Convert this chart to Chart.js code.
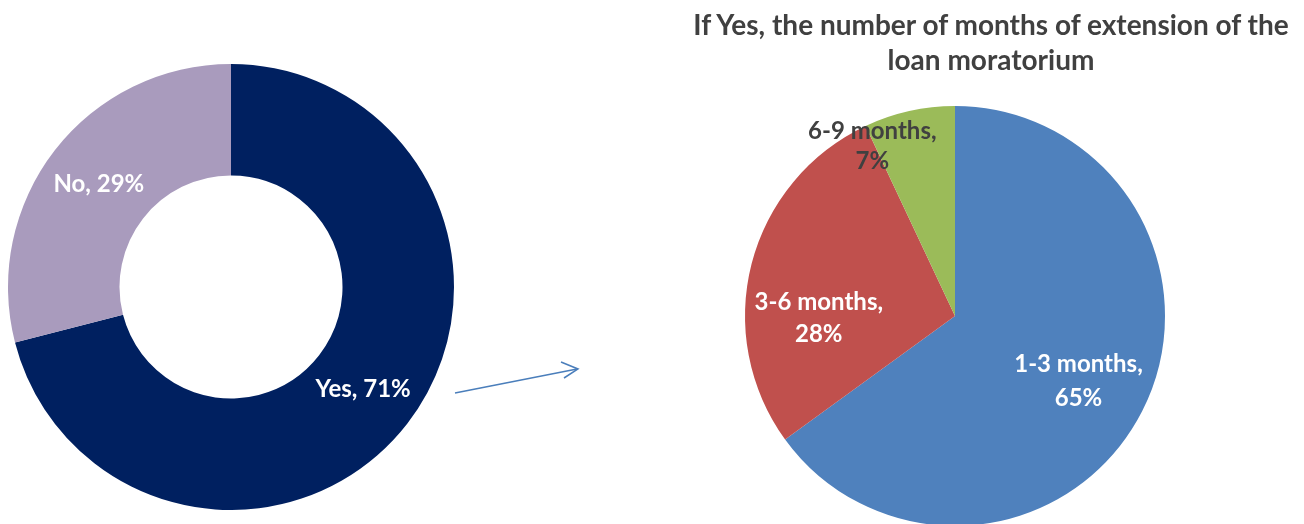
<!DOCTYPE html>
<html>
<head>
<meta charset="utf-8">
<script src="https://cdn.jsdelivr.net/npm/chart.js@4.4.1/dist/chart.umd.min.js"></script>
<style>
  html, body { margin: 0; padding: 0; background: #fff; width: 1304px; height: 524px; overflow: hidden; }
  #wrapL { position: absolute; left: 8px; top: 64px; width: 446px; height: 446px; }
  #wrapR { position: absolute; left: 705px; top: 66px; width: 500px; height: 500px; }
  #title { position: absolute; left: 680px; width: 622px; top: 7px; text-align: center;
           font-family: Lato, "Open Sans", sans-serif; font-weight: bold; font-size: 28px;
           line-height: 35px; color: #404040; }
  svg { position: absolute; left: 0; top: 0; }
</style>
</head>
<body>
<div id="wrapL"><canvas id="left"></canvas></div>
<div id="wrapR"><canvas id="right"></canvas></div>
<div id="title">If Yes, the number of months of extension of the<br>loan moratorium</div>
<svg width="1304" height="524">
  <line x1="455" y1="393" x2="577" y2="369" stroke="#4A7EBB" stroke-width="1.5"/>
  <polyline points="561,362 578,369 564,378" fill="none" stroke="#4A7EBB" stroke-width="1.5"/>
</svg>
<script>
const leftLabels = ["Yes", "No"];
const leftValues = [71, 29];
const rightLabels = ["1-3 months", "3-6 months", "6-9 months"];
const rightValues = [65, 28, 7];

const labelPlugin = {
  id: 'sliceLabels',
  afterDatasetsDraw(chart, args, opts) {
    const ctx = chart.ctx;
    const meta = chart.getDatasetMeta(0);
    const ds = chart.data.datasets[0];
    meta.data.forEach((arc, i) => {
      const p = arc.getProps(['x','y','startAngle','endAngle','innerRadius','outerRadius'], true);
      const mid = (p.startAngle + p.endAngle) / 2;
      const st = opts.styles[i];
      const r = p.innerRadius + (p.outerRadius - p.innerRadius) * st.rf;
      const cx = p.x + Math.cos(mid) * r + (st.dx || 0);
      const cy = p.y + Math.sin(mid) * r + (st.dy || 0);
      const text = chart.data.labels[i] + ', ' + ds.data[i] + '%';
      const lines = st.wrap ? [chart.data.labels[i] + ',', ds.data[i] + '%'] : [text];
      ctx.save();
      ctx.font = 'bold ' + opts.size + 'px Lato, "Open Sans", sans-serif';
      ctx.fillStyle = st.color;
      ctx.textAlign = 'center';
      ctx.textBaseline = 'middle';
      const lh = st.lh || opts.lineHeight;
      lines.forEach((ln, k) => {
        ctx.fillText(ln, cx, cy + (k - (lines.length - 1) / 2) * lh);
      });
      ctx.restore();
    });
  }
};

const common = {
  responsive: true,
  maintainAspectRatio: false,
  animation: false,
  layout: { padding: 0 },
  plugins: { legend: { display: false }, tooltip: { enabled: false }, title: { display: false } }
};

new Chart(document.getElementById('left'), {
  type: 'doughnut',
  data: { labels: leftLabels, datasets: [{ data: leftValues, backgroundColor: ['#002060', '#A99BBD'], borderWidth: 0 }] },
  options: Object.assign({}, common, {
    cutout: '50%',
    plugins: Object.assign({}, common.plugins, {
      sliceLabels: { size: 24, lineHeight: 35, styles: [
        { rf: 0.5, color: '#ffffff', dx: 0, dy: 0 },
        { rf: 0.5, color: '#ffffff', dx: 0, dy: 0 }
      ] }
    })
  }),
  plugins: [labelPlugin]
});

new Chart(document.getElementById('right'), {
  type: 'pie',
  data: { labels: rightLabels, datasets: [{ data: rightValues, backgroundColor: ['#4F81BD', '#C0504D', '#9BBB59'], borderWidth: 0 }] },
  options: Object.assign({}, common, {
    layout: { padding: 40 },
    plugins: Object.assign({}, common.plugins, {
      sliceLabels: { size: 24, lineHeight: 34, styles: [
        { rf: 0.66, color: '#ffffff', wrap: true, dx: 0, dy: 2 },
        { rf: 0.65, color: '#ffffff', wrap: true, dx: -4, dy: 36, lh: 32 },
        { rf: 0.91, color: '#404040', wrap: true, dx: -41, dy: 17, lh: 30 }
      ] }
    })
  }),
  plugins: [labelPlugin]
});
</script>
</body>
</html>
